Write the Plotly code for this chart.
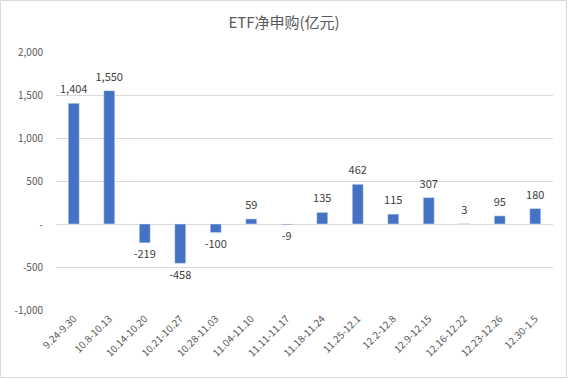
import plotly.graph_objects as go

categories = ["9.24-9.30", "10.8-10.13", "10.14-10.20", "10.21-10.27", "10.28-11.03",
              "11.04-11.10", "11.11-11.17", "11.18-11.24", "11.25-12.1", "12.2-12.8",
              "12.9-12.15", "12.16-12.22", "12.23-12.26", "12.30-1.5"]
values = [1404, 1550, -219, -458, -100, 59, -9, 135, 462, 115, 307, 3, 95, 180]
label_text = [f"{v:,}" for v in values]
tick_vals = [-1000, -500, 0, 500, 1000, 1500, 2000]
tick_text = ["-1,000", "-500", "-", "500", "1,000", "1,500", "2,000"]

font_family = "Noto Sans CJK SC, Noto Sans, sans-serif"
grey = "#595959"

W, H = 568, 379
L, R, T, B = 56, 15, 52, 69
pw, ph = W - L - R, H - T - B

fig = go.Figure()
fig.add_trace(go.Bar(x=categories, y=values, marker_color="#4472C4", hoverinfo="x+y"))
fig.add_trace(go.Scatter(
    x=categories, y=values, mode="markers+text", text=label_text,
    marker=dict(size=10, opacity=0),
    textposition=["top center" if v >= 0 else "bottom center" for v in values],
    textfont=dict(size=11, color="#404040", family=font_family),
    cliponaxis=False, hoverinfo="skip",
))

fig.update_layout(
    width=W, height=H,
    margin=dict(l=L, r=R, t=T, b=B, autoexpand=False),
    paper_bgcolor="white", plot_bgcolor="white",
    title=dict(text="ETF净申购(亿元)", x=0.5, xanchor="center", y=0.94, yanchor="middle",
               font=dict(size=15, color=grey, family=font_family)),
    bargap=0.69,
    showlegend=False,
    font=dict(family=font_family, color=grey, size=10),
    shapes=[dict(type="rect", xref="paper", yref="paper",
                 x0=-(L - 0.5) / pw, x1=1 + (R - 1.5) / pw,
                 y0=-(B - 1.5) / ph, y1=1 + (T - 0.5) / ph,
                 line=dict(color="#D9D9D9", width=1))],
)
fig.update_xaxes(range=[-0.5, len(categories) - 0.5], tickangle=-45, showgrid=False,
                 showline=False, ticks="", automargin=False,
                 tickfont=dict(size=10, color=grey))
fig.update_yaxes(range=[-1000, 2000], tickvals=tick_vals, ticktext=tick_text, automargin=False,
                 showgrid=True, gridcolor="#D9D9D9", gridwidth=1, zeroline=False,
                 ticks="", tickfont=dict(size=10, color=grey), ticklabelstandoff=12)

fig.write_html("out.html", config={"displayModeBar": False},
               post_script="document.body.style.margin='0';document.body.style.overflow='hidden';")
